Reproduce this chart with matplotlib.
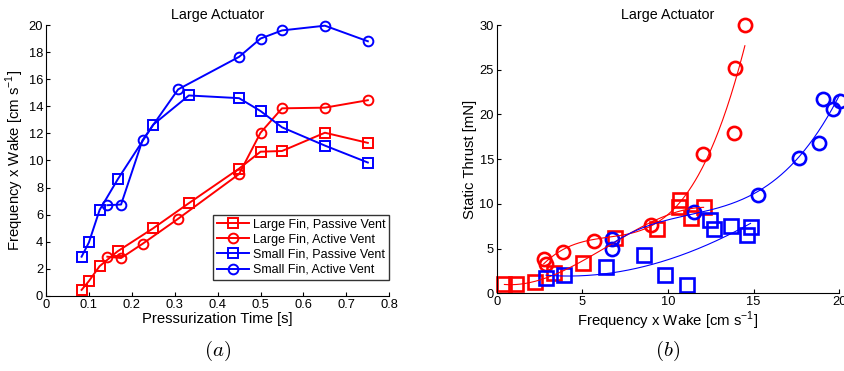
import numpy as np
import matplotlib
matplotlib.use("Agg")
import matplotlib.pyplot as plt

plt.rcParams['font.family'] = ['Liberation Sans', 'DejaVu Sans']
plt.rcParams['xtick.direction'] = 'in'
plt.rcParams['ytick.direction'] = 'in'

# ---- panel (a): pressurization time vs frequency x wake ----
t_sq = [0.083, 0.1, 0.125, 0.167, 0.25, 0.333, 0.45, 0.5, 0.55, 0.65, 0.75]
t_ci = [0.143, 0.175, 0.225, 0.308, 0.45, 0.5, 0.55, 0.65, 0.75]

large_passive = [0.45, 1.1, 2.2, 3.3, 5.0, 6.85, 9.4, 10.65, 10.7, 12.05, 11.3]
large_active = [2.9, 2.8, 3.85, 5.7, 9.0, 12.05, 13.85, 13.9, 14.45]
small_passive = [2.9, 3.95, 6.35, 8.6, 12.65, 14.8, 14.6, 13.65, 12.45, 11.1, 9.85]
small_active = [6.7, 6.75, 11.5, 15.25, 17.65, 19.0, 19.6, 19.95, 18.8]

# ---- panel (b): frequency x wake vs static thrust ----
fw_large_passive = [0.45, 1.13, 2.24, 3.37, 5.06, 6.9, 9.37, 10.66, 10.72, 11.32, 12.08]
thr_large_passive = [1.0, 1.0, 1.23, 2.24, 3.43, 6.2, 7.23, 9.62, 10.44, 8.46, 9.69]
fw_large_active = [2.74, 2.86, 3.85, 5.68, 9.0, 12.06, 13.85, 13.89, 14.49]
thr_large_active = [3.8, 3.24, 4.58, 5.89, 7.6, 15.6, 17.96, 25.2, 30.0]
fw_small_passive = [2.88, 3.91, 6.4, 8.6, 9.84, 11.09, 12.45, 12.7, 13.68, 14.6, 14.82]
thr_small_passive = [1.75, 2.0, 2.9, 4.25, 2.09, 0.97, 8.16, 7.2, 7.5, 6.5, 7.4]
fw_small_active = [6.71, 6.71, 11.5, 15.25, 17.67, 18.8, 19.07, 19.65, 20.04]
thr_small_active = [6.07, 4.92, 9.1, 11.03, 15.1, 16.77, 21.7, 20.65, 21.5]

labels = ['Large Fin, Passive Vent', 'Large Fin, Active Vent',
          'Small Fin, Passive Vent', 'Small Fin, Active Vent']

fig = plt.figure(figsize=(8.45, 3.71), dpi=100)
ax1 = fig.add_axes([0.0544, 0.2022, 0.4063, 0.7304])
ax2 = fig.add_axes([0.5878, 0.2094, 0.4054, 0.7232])

# panel (a)
kw = dict(lw=1.4, ms=7, mfc='none', mew=1.4)
ax1.plot(t_sq, large_passive, 's-', color='red', label=labels[0], **kw)
ax1.plot(t_ci, large_active, 'o-', color='red', label=labels[1], **kw)
ax1.plot(t_sq, small_passive, 's-', color='blue', label=labels[2], **kw)
ax1.plot(t_ci, small_active, 'o-', color='blue', label=labels[3], **kw)
ax1.set_xlim(0, 0.8)
ax1.set_ylim(0, 20)
ax1.set_xticks(np.arange(0, 0.81, 0.1))
ax1.set_xticklabels(['0', '0.1', '0.2', '0.3', '0.4', '0.5', '0.6', '0.7', '0.8'])
ax1.set_yticks(np.arange(0, 21, 2))
ax1.set_xlabel('Pressurization Time [s]', fontsize=10.7, labelpad=1)
ax1.set_ylabel(r'Frequency x Wake [cm s$^{\mathregular{-1}}$]', fontsize=10.7, labelpad=2)
ax1.set_title('Large Actuator', fontsize=10.3, pad=4)
leg = ax1.legend(loc='lower right', bbox_to_anchor=(1.0, 0.06), fontsize=9,
                 frameon=True, fancybox=False, edgecolor='black',
                 handlelength=2.6, borderpad=0.3, labelspacing=0.25,
                 handletextpad=0.3, borderaxespad=0.0)
leg.get_frame().set_linewidth(1.0)

# panel (b)
kw2 = dict(ls='none', ms=9.5, mfc='none', mew=1.9)
ax2.plot(fw_large_passive, thr_large_passive, 's', color='red', **kw2)
ax2.plot(fw_large_active, thr_large_active, 'o', color='red', **kw2)
ax2.plot(fw_small_passive, thr_small_passive, 's', color='blue', **kw2)
ax2.plot(fw_small_active, thr_small_active, 'o', color='blue', **kw2)

# cubic fits through each group
groups = [(fw_large_passive, thr_large_passive, 'red'),
          (fw_large_active, thr_large_active, 'red'),
          (fw_small_passive, thr_small_passive, 'blue'),
          (fw_small_active, thr_small_active, 'blue')]
for xs, ys, c in groups:
    p = np.polyfit(xs, ys, 3)
    xx = np.linspace(min(xs), max(xs), 200)
    ax2.plot(xx, np.polyval(p, xx), '-', color=c, lw=0.8)

ax2.set_xlim(0, 20)
ax2.set_ylim(0, 30)
ax2.set_xticks(np.arange(0, 21, 5))
ax2.set_yticks(np.arange(0, 31, 5))
ax2.set_xlabel(r'Frequency x Wake [cm s$^{\mathregular{-1}}$]', fontsize=10.7, labelpad=1)
ax2.set_ylabel('Static Thrust [mN]', fontsize=10.7, labelpad=2)
ax2.set_title('Large Actuator', fontsize=10.3, pad=4)

for ax in (ax1, ax2):
    ax.spines['top'].set_visible(False)
    ax.spines['right'].set_visible(False)
    ax.tick_params(labelsize=9.3, length=3, pad=2)
    for ln in ax.lines:
        ln.set_clip_on(False)

fig.text(0.2575, 0.04, r'$(a)$', fontsize=15, ha='center', math_fontfamily='cm')
fig.text(0.7905, 0.04, r'$(b)$', fontsize=15, ha='center', math_fontfamily='cm')

fig.savefig('out.png', dpi=100)
